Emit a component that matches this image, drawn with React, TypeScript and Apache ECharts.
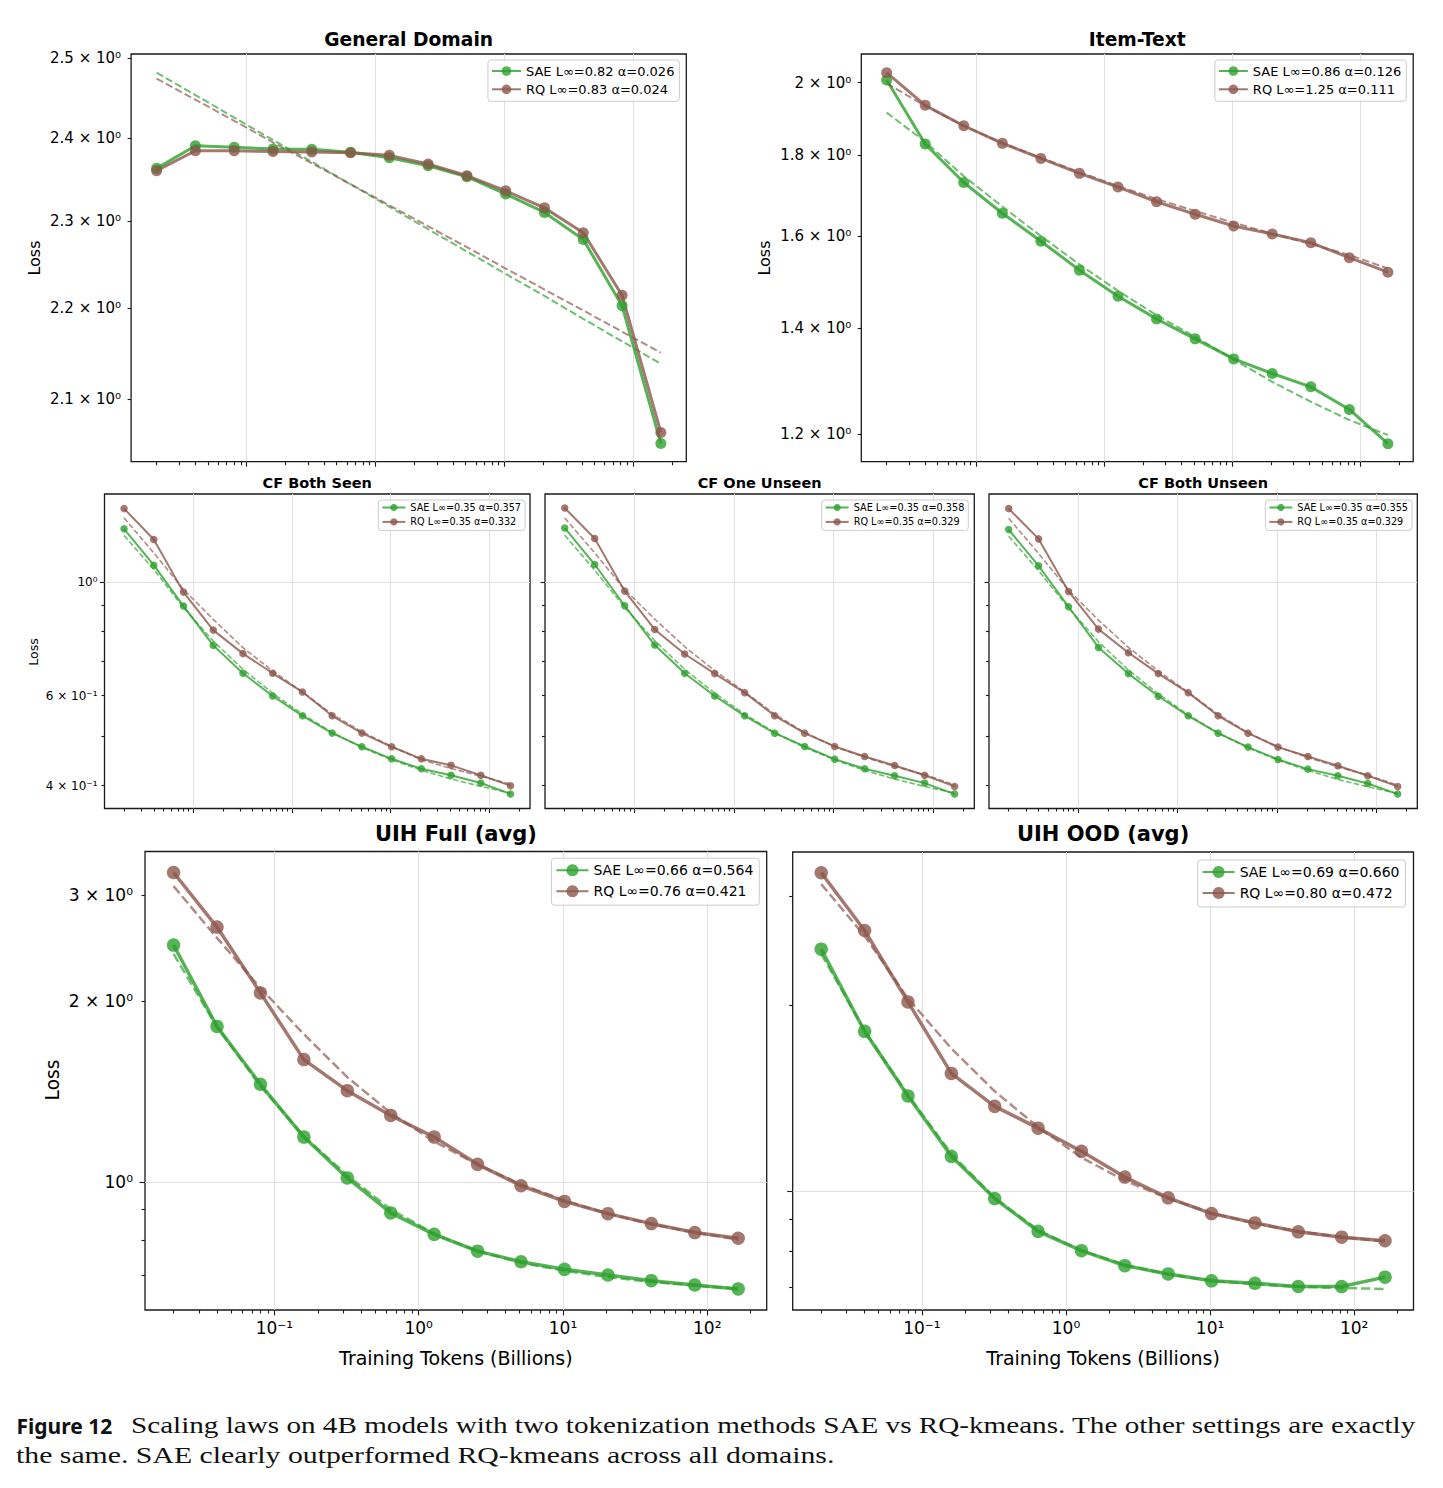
import React, { useEffect, useRef } from 'react';
import * as echarts from 'echarts';

// ---------------- data ----------------
const tokens = [0.02, 0.04, 0.08, 0.16, 0.32, 0.64, 1.28, 2.56, 5.12, 10.24, 20.48, 40.96, 81.92, 163.84];

const generalSAE = [2.363, 2.3905, 2.3886, 2.3865, 2.3862, 2.3825, 2.3759, 2.3662, 2.3529, 2.3321, 2.3103, 2.2786, 2.2024, 2.0526];
const generalRQ = [2.3601, 2.3844, 2.3844, 2.3834, 2.383, 2.3821, 2.3788, 2.3683, 2.3541, 2.336, 2.3157, 2.2863, 2.2144, 2.0642];
const generalSAEFit = [2.4816, 2.4534, 2.4253, 2.3976, 2.3711, 2.3439, 2.317, 2.2905, 2.2646, 2.2387, 2.2136, 2.1878, 2.1627, 2.138];
const generalRQFit = [2.4741, 2.4476, 2.4213, 2.3947, 2.3692, 2.3439, 2.3188, 2.294, 2.2696, 2.2449, 2.2209, 2.1972, 2.1735, 2.1503];

const itemSAE = [2.0079, 1.8294, 1.7302, 1.6546, 1.5887, 1.5232, 1.4667, 1.4191, 1.3785, 1.339, 1.3109, 1.2857, 1.2442, 1.1837];
const itemRQ = [2.0294, 1.9353, 1.8788, 1.8313, 1.7918, 1.7532, 1.7186, 1.6824, 1.652, 1.6241, 1.6054, 1.5853, 1.5511, 1.5188];
const itemSAEFit = [1.915, 1.8356, 1.7461, 1.6707, 1.6007, 1.5359, 1.4781, 1.4268, 1.3826, 1.3379, 1.2951, 1.2582, 1.2252, 1.1988];
const itemRQFit = [1.9983, 1.9338, 1.878, 1.833, 1.7934, 1.7565, 1.7211, 1.6891, 1.6599, 1.6319, 1.6061, 1.5822, 1.5572, 1.527];

const cfSeenSAE = [1.271, 1.0793, 0.8979, 0.7523, 0.6635, 0.5992, 0.5479, 0.5069, 0.4766, 0.4515, 0.4316, 0.4194, 0.4049, 0.3854];
const cfSeenRQ = [1.3924, 1.2115, 0.9561, 0.8058, 0.7249, 0.6635, 0.6101, 0.5479, 0.5069, 0.4766, 0.4515, 0.4384, 0.4194, 0.4];
const cfSeenSAEFit = [1.2334, 1.0588, 0.8916, 0.7671, 0.6755, 0.6065, 0.5521, 0.5085, 0.4753, 0.4495, 0.4291, 0.4122, 0.3989, 0.3871];
const cfSeenRQFit = [1.3354, 1.1413, 0.9677, 0.8457, 0.7447, 0.6704, 0.6101, 0.5521, 0.5099, 0.4775, 0.4495, 0.4324, 0.4175, 0.4031];

const cfOneSAE = [1.2764, 1.0826, 0.8992, 0.7534, 0.6635, 0.5992, 0.5479, 0.5068, 0.4773, 0.4508, 0.4316, 0.4183, 0.4047, 0.3852];
const cfOneRQ = [1.3964, 1.2167, 0.9604, 0.8083, 0.7236, 0.6625, 0.6081, 0.5479, 0.5068, 0.4773, 0.4562, 0.4382, 0.4193, 0.3987];
const cfOneSAEFit = [1.2352, 1.0554, 0.8925, 0.7683, 0.6754, 0.6066, 0.552, 0.5083, 0.4751, 0.4495, 0.4284, 0.4121, 0.3987, 0.387];
const cfOneRQFit = [1.335, 1.1409, 0.9676, 0.8468, 0.7478, 0.6714, 0.6101, 0.552, 0.5083, 0.4773, 0.4548, 0.4361, 0.4204, 0.4017];

const cfBothSAE = [1.2668, 1.0761, 0.8952, 0.7455, 0.6625, 0.5983, 0.5479, 0.5068, 0.4759, 0.4501, 0.431, 0.4183, 0.4041, 0.3852];
const cfBothRQ = [1.3923, 1.2149, 0.9589, 0.8095, 0.728, 0.6625, 0.6081, 0.5479, 0.5068, 0.4759, 0.4562, 0.4376, 0.4183, 0.3987];
const cfBothSAEFit = [1.2297, 1.0522, 0.8912, 0.7649, 0.6734, 0.6048, 0.5503, 0.5068, 0.4744, 0.4488, 0.4284, 0.4115, 0.3981, 0.3864];
const cfBothRQFit = [1.333, 1.1375, 0.9647, 0.843, 0.7455, 0.6704, 0.6092, 0.5512, 0.5076, 0.4766, 0.4541, 0.4355, 0.4197, 0.4011];

const uihFullSAE = [2.478, 1.8146, 1.4543, 1.1881, 1.0162, 0.8888, 0.8189, 0.7679, 0.7373, 0.7162, 0.7008, 0.6857, 0.6745, 0.6645];
const uihFullRQ = [3.2705, 2.6544, 2.0633, 1.5983, 1.419, 1.2907, 1.1881, 1.0705, 0.9863, 0.9288, 0.8864, 0.8532, 0.8245, 0.8068];
const uihFullSAEFit = [2.395, 1.8098, 1.4443, 1.1925, 1.026, 0.9011, 0.8211, 0.7679, 0.7342, 0.7124, 0.6952, 0.6828, 0.6727, 0.6653];
const uihFullRQFit = [3.1045, 2.5464, 2.1024, 1.7611, 1.4946, 1.3031, 1.1684, 1.0693, 0.9916, 0.9324, 0.8864, 0.8508, 0.8245, 0.8025];

const uihOodSAE = [2.4602, 1.8129, 1.4256, 1.1392, 0.9736, 0.8619, 0.8021, 0.7587, 0.7357, 0.7172, 0.7106, 0.7022, 0.702, 0.727];
const uihOodRQ = [3.2686, 2.6372, 2.022, 1.5502, 1.3717, 1.2648, 1.1603, 1.0546, 0.9761, 0.9208, 0.8894, 0.8605, 0.8435, 0.8323];
const uihOodSAEFit = [2.4185, 1.8177, 1.4315, 1.1498, 0.9761, 0.8663, 0.8021, 0.7617, 0.7347, 0.7172, 0.7078, 0.7012, 0.6984, 0.6958];
const uihOodRQFit = [3.1329, 2.5846, 2.0484, 1.7009, 1.4504, 1.27, 1.1343, 1.0406, 0.9736, 0.9232, 0.8872, 0.8619, 0.8437, 0.8302];

const panelTitles = ['General Domain', 'Item-Text', 'CF Both Seen', 'CF One Unseen', 'CF Both Unseen', 'UIH Full (avg)', 'UIH OOD (avg)'];
const saeNames = ['SAE L∞=0.82 α=0.026', 'SAE L∞=0.86 α=0.126', 'SAE L∞=0.35 α=0.357', 'SAE L∞=0.35 α=0.358', 'SAE L∞=0.35 α=0.355', 'SAE L∞=0.66 α=0.564', 'SAE L∞=0.69 α=0.660'];
const rqNames = ['RQ L∞=0.83 α=0.024', 'RQ L∞=1.25 α=0.111', 'RQ L∞=0.35 α=0.332', 'RQ L∞=0.35 α=0.329', 'RQ L∞=0.35 α=0.329', 'RQ L∞=0.76 α=0.421', 'RQ L∞=0.80 α=0.472'];

// tick values and labels
const xMajorTicks = [0.1, 1, 10, 100];
const xMajorLabels = ['10⁻¹', '10⁰', '10¹', '10²'];
const xMinorTicks = [0.02, 0.03, 0.04, 0.05, 0.06, 0.07, 0.08, 0.09, 0.2, 0.3, 0.4, 0.5, 0.6, 0.7, 0.8, 0.9, 2, 3, 4, 5, 6, 7, 8, 9, 20, 30, 40, 50, 60, 70, 80, 90, 200];
const generalYTicks = [2.1, 2.2, 2.3, 2.4, 2.5];
const generalYLabels = ['2.1 × 10⁰', '2.2 × 10⁰', '2.3 × 10⁰', '2.4 × 10⁰', '2.5 × 10⁰'];
const itemYTicks = [1.2, 1.4, 1.6, 1.8, 2];
const itemYLabels = ['1.2 × 10⁰', '1.4 × 10⁰', '1.6 × 10⁰', '1.8 × 10⁰', '2 × 10⁰'];
const cfYMajor = [1];
const cfYMinor = [0.4, 0.5, 0.6, 0.7, 0.8, 0.9];
const cfYLabelValues = [0.4, 0.6, 1];
const cfYLabels = ['4 × 10⁻¹', '6 × 10⁻¹', '10⁰'];
const uihYMajor = [1];
const uihYMinor = [0.7, 0.8, 0.9, 2, 3];
const uihYLabelValues = [1, 2, 3];
const uihYLabels = ['10⁰', '2 × 10⁰', '3 × 10⁰'];

const yLabelText = 'Loss';
const xLabelText = 'Training Tokens (Billions)';
const captionBold = 'Figure 12';
const captionLine1 = 'Scaling laws on 4B models with two tokenization methods SAE vs RQ-kmeans. The other settings are exactly';
const captionLine2 = 'the same. SAE clearly outperformed RQ-kmeans across all domains.';

// ---------------- layout / style ----------------
const W = 1443;
const H = 1488;
const X_MIN = 0.012677;
const X_MAX = 258.2;
const SAE_COLOR = '#2ca02c';
const RQ_COLOR = '#8c564b';
const FONT = '"DejaVu Sans", sans-serif';
const CAPTION_FONT = '23px "Liberation Serif", serif';
const CAP1 = { x: 131, right: 1416, y: 1426 };
const CAP2 = { x: 16, right: 835, y: 1455 };

const STYLE: any = {
  top: { lw: 3, sym: 11, fitLw: 2, dash: [7.4, 3.2], tickFont: 15, yMargin: 10, legendFont: 13, itemW: 29, itemH: 12, lineH: 14, gap: 4.3, pad: [4, 5, 5, 3], major: 5, minor: 3.5 },
  cf: { lw: 2, sym: 7.5, fitLw: 1.6, dash: [5.5, 2.4], tickFont: 12, yMargin: 7, legendFont: 9.7, itemW: 23, itemH: 9, lineH: 11, gap: 3.4, pad: [2, 4, 3, 3], major: 4.5, minor: 3 },
  bottom: { lw: 3.5, sym: 13.5, fitLw: 2.5, dash: [9.2, 4], tickFont: 17, yMargin: 12, legendFont: 14, itemW: 32, itemH: 15, lineH: 16, gap: 5, pad: [4, 6, 6, 4], major: 5.5, minor: 3.5 },
};

const panels: any[] = [
  { style: 'top', left: 131.1, top: 54, right: 686.3, bottom: 461.7, yMin: 2.0335, yMax: 2.5055,
    yMajor: [], yMinor: generalYTicks, yLabVals: generalYTicks, yLabs: generalYLabels, xLabels: false,
    sae: generalSAE, rq: generalRQ, saeFit: generalSAEFit, rqFit: generalRQFit,
    titleY: 39, titleFont: 18.7, legendRight: W - 679.4, legendTop: 60, loss: [34, 258, 16] },
  { style: 'top', left: 861.3, top: 54, right: 1413.2, bottom: 461.7, yMin: 1.1532, yMax: 2.0852,
    yMajor: [], yMinor: itemYTicks, yLabVals: itemYTicks, yLabs: itemYLabels, xLabels: false,
    sae: itemSAE, rq: itemRQ, saeFit: itemSAEFit, rqFit: itemRQFit,
    titleY: 39, titleFont: 18.7, legendRight: W - 1406.3, legendTop: 60, loss: [764, 258, 16] },
  { style: 'cf', left: 104.5, top: 494, right: 530, bottom: 808.5, yMin: 0.361, yMax: 1.487,
    yMajor: cfYMajor, yMinor: cfYMinor, yLabVals: cfYLabelValues, yLabs: cfYLabels, xLabels: false,
    sae: cfSeenSAE, rq: cfSeenRQ, saeFit: cfSeenSAEFit, rqFit: cfSeenRQFit,
    titleY: 482.7, titleFont: 14.5, legendRight: W - 525, legendTop: 500, loss: [33, 652, 12.5] },
  { style: 'cf', left: 545, top: 494, right: 974.3, bottom: 808.5, yMin: 0.361, yMax: 1.487,
    yMajor: cfYMajor, yMinor: cfYMinor, yLabVals: [], yLabs: [], xLabels: false,
    sae: cfOneSAE, rq: cfOneRQ, saeFit: cfOneSAEFit, rqFit: cfOneRQFit,
    titleY: 482.7, titleFont: 14.5, legendRight: W - 968.3, legendTop: 500, loss: null },
  { style: 'cf', left: 989, top: 494, right: 1417.3, bottom: 808.5, yMin: 0.361, yMax: 1.487,
    yMajor: cfYMajor, yMinor: cfYMinor, yLabVals: [], yLabs: [], xLabels: false,
    sae: cfBothSAE, rq: cfBothRQ, saeFit: cfBothSAEFit, rqFit: cfBothRQFit,
    titleY: 482.7, titleFont: 14.5, legendRight: W - 1412, legendTop: 500, loss: null },
  { style: 'bottom', left: 145, top: 851.5, right: 766.7, bottom: 1310, yMin: 0.613, yMax: 3.5446,
    yMajor: uihYMajor, yMinor: uihYMinor, yLabVals: uihYLabelValues, yLabs: uihYLabels, xLabels: true,
    sae: uihFullSAE, rq: uihFullRQ, saeFit: uihFullSAEFit, rqFit: uihFullRQFit,
    titleY: 834, titleFont: 21, legendRight: W - 759.3, legendTop: 858.2, loss: [52.5, 1080, 18.6] },
  { style: 'bottom', left: 792.7, top: 852, right: 1413.5, bottom: 1310, yMin: 0.6434, yMax: 3.5304,
    yMajor: uihYMajor, yMinor: uihYMinor, yLabVals: [], yLabs: [], xLabels: true,
    sae: uihOodSAE, rq: uihOodRQ, saeFit: uihOodSAEFit, rqFit: uihOodRQFit,
    titleY: 834, titleFont: 21, legendRight: W - 1405.5, legendTop: 860, loss: null },
];

function fmt(values: number[], texts: string[]) {
  return (v: number) => {
    let best = -1;
    let bd = Infinity;
    values.forEach((c, k) => {
      const d = Math.abs(Math.log10(v) - Math.log10(c));
      if (d < bd) { bd = d; best = k; }
    });
    return best >= 0 && bd < 1e-4 ? texts[best] : '';
  };
}

const pairs = (ys: number[]) => ys.map((y, k) => [tokens[k], y]);

function measure(text: string, font: string): number {
  try {
    const ctx = document.createElement('canvas').getContext('2d');
    if (!ctx) return 0;
    ctx.font = font;
    return ctx.measureText(text).width;
  } catch (e) {
    return 0;
  }
}

function textStyle(text: string, font: string, align: string, fill = '#000') {
  return { text, font, fill, textAlign: align, textVerticalAlign: 'middle', align, verticalAlign: 'middle' };
}

function buildOption() {
  const grid: any[] = [];
  const xAxis: any[] = [];
  const yAxis: any[] = [];
  const series: any[] = [];
  const legend: any[] = [];
  const graphic: any[] = [];
  const tickLine = { color: '#1a1a1a', width: 1.1 };

  panels.forEach((p, i) => {
    const s = STYLE[p.style];
    grid.push({
      left: p.left, top: p.top, width: p.right - p.left, height: p.bottom - p.top,
      show: true, borderColor: '#1a1a1a', borderWidth: 1.3, backgroundColor: 'transparent',
      containLabel: false, outerBoundsMode: 'none',
    });
    const baseX = { type: 'log', logBase: 10, gridIndex: i, min: X_MIN, max: X_MAX, position: 'bottom', axisLine: { show: false } };
    xAxis.push({
      ...baseX,
      axisTick: { show: true, customValues: xMajorTicks, length: s.major, lineStyle: tickLine },
      axisLabel: { show: p.xLabels, customValues: xMajorTicks, formatter: fmt(xMajorTicks, xMajorLabels), fontSize: s.tickFont, fontFamily: FONT, color: '#000', margin: 9 },
      splitLine: { show: true, lineStyle: { color: '#e0e0e0', width: 1 } },
    });
    xAxis.push({
      ...baseX,
      axisTick: { show: true, customValues: xMinorTicks, length: s.minor, lineStyle: tickLine },
      axisLabel: { show: false },
      splitLine: { show: false },
    });
    const baseY = { type: 'log', logBase: 10, gridIndex: i, min: p.yMin, max: p.yMax, position: 'left', axisLine: { show: false } };
    yAxis.push({
      ...baseY,
      axisTick: { show: p.yMajor.length > 0, customValues: p.yMajor.length ? p.yMajor : [1], length: s.major, lineStyle: tickLine },
      axisLabel: { show: p.yLabVals.length > 0, customValues: p.yLabVals.length ? p.yLabVals : [1], formatter: fmt(p.yLabVals, p.yLabs), fontSize: s.tickFont, fontFamily: FONT, color: '#000', margin: s.yMargin },
      splitLine: { show: p.yMajor.length > 0, lineStyle: { color: '#e0e0e0', width: 1 } },
    });
    yAxis.push({
      ...baseY,
      axisTick: { show: true, customValues: p.yMinor, length: s.minor, lineStyle: tickLine },
      axisLabel: { show: false },
      splitLine: { show: false },
    });

    const ax = { xAxisIndex: 2 * i, yAxisIndex: 2 * i };
    const solid = (name: string, color: string, ys: number[]) => ({
      type: 'line', name, ...ax, data: pairs(ys), symbol: 'circle', symbolSize: s.sym, showSymbol: true,
      lineStyle: { color, width: s.lw, opacity: 0.8 }, itemStyle: { color, opacity: 0.8 }, z: 3, silent: true,
    });
    const fit = (name: string, color: string, ys: number[]) => ({
      type: 'line', name, ...ax, data: pairs(ys), symbol: 'none', showSymbol: false, smooth: false,
      lineStyle: { color, width: s.fitLw, opacity: 0.68, type: s.dash }, z: 3, silent: true,
    });
    series.push(solid(saeNames[i], SAE_COLOR, p.sae));
    series.push(fit(`SAE fit ${i}`, SAE_COLOR, p.saeFit));
    series.push(solid(rqNames[i], RQ_COLOR, p.rq));
    series.push(fit(`RQ fit ${i}`, RQ_COLOR, p.rqFit));

    legend.push({
      data: [saeNames[i], rqNames[i]], orient: 'vertical', right: p.legendRight, top: p.legendTop,
      itemWidth: s.itemW, itemHeight: s.itemH, itemGap: s.gap, padding: s.pad,
      backgroundColor: 'rgba(255,255,255,0.8)', borderColor: '#cccccc', borderWidth: 1, borderRadius: 3,
      textStyle: { fontSize: s.legendFont, fontFamily: FONT, color: '#000', lineHeight: s.lineH },
      selectedMode: false,
    });

    graphic.push({
      type: 'text', x: (p.left + p.right) / 2, y: p.titleY, silent: true,
      style: textStyle(panelTitles[i], `bold ${p.titleFont}px ${FONT}`, 'center'),
    });
    if (p.loss) {
      graphic.push({
        type: 'text', x: p.loss[0], y: p.loss[1], rotation: Math.PI / 2, silent: true,
        style: textStyle(yLabelText, `${p.loss[2]}px ${FONT}`, 'center'),
      });
    }
    if (p.style === 'bottom') {
      graphic.push({
        type: 'text', x: (p.left + p.right) / 2, y: 1358, silent: true,
        style: textStyle(xLabelText, `19px ${FONT}`, 'center'),
      });
    }
  });

  const w1 = measure(captionLine1, CAPTION_FONT);
  const w2 = measure(captionLine2, CAPTION_FONT);
  const sx1 = w1 > 0 ? (CAP1.right - CAP1.x) / w1 : 1.2;
  const sx2 = w2 > 0 ? (CAP2.right - CAP2.x) / w2 : 1.2;

  graphic.push({
    type: 'text', x: 16.5, y: 1426, silent: true,
    style: textStyle(captionBold, 'bold 21px "Noto Sans", sans-serif', 'left', '#111'),
  });
  graphic.push({
    type: 'text', x: CAP1.x, y: CAP1.y, scaleX: sx1, scaleY: 1, silent: true,
    style: textStyle(captionLine1, CAPTION_FONT, 'left', '#111'),
  });
  graphic.push({
    type: 'text', x: CAP2.x, y: CAP2.y, scaleX: sx2, scaleY: 1, silent: true,
    style: textStyle(captionLine2, CAPTION_FONT, 'left', '#111'),
  });

  return { animation: false, backgroundColor: '#ffffff', grid, xAxis, yAxis, series, legend, graphic };
}

export default function App() {
  const ref = useRef<HTMLDivElement>(null);
  useEffect(() => {
    if (!ref.current) return;
    const chart = echarts.init(ref.current, null, { renderer: 'svg' });
    chart.setOption(buildOption() as any);
    return () => chart.dispose();
  }, []);
  return <div ref={ref} style={{ position: 'absolute', left: 0, top: 0, width: W, height: H, background: '#fff' }} />;
}
